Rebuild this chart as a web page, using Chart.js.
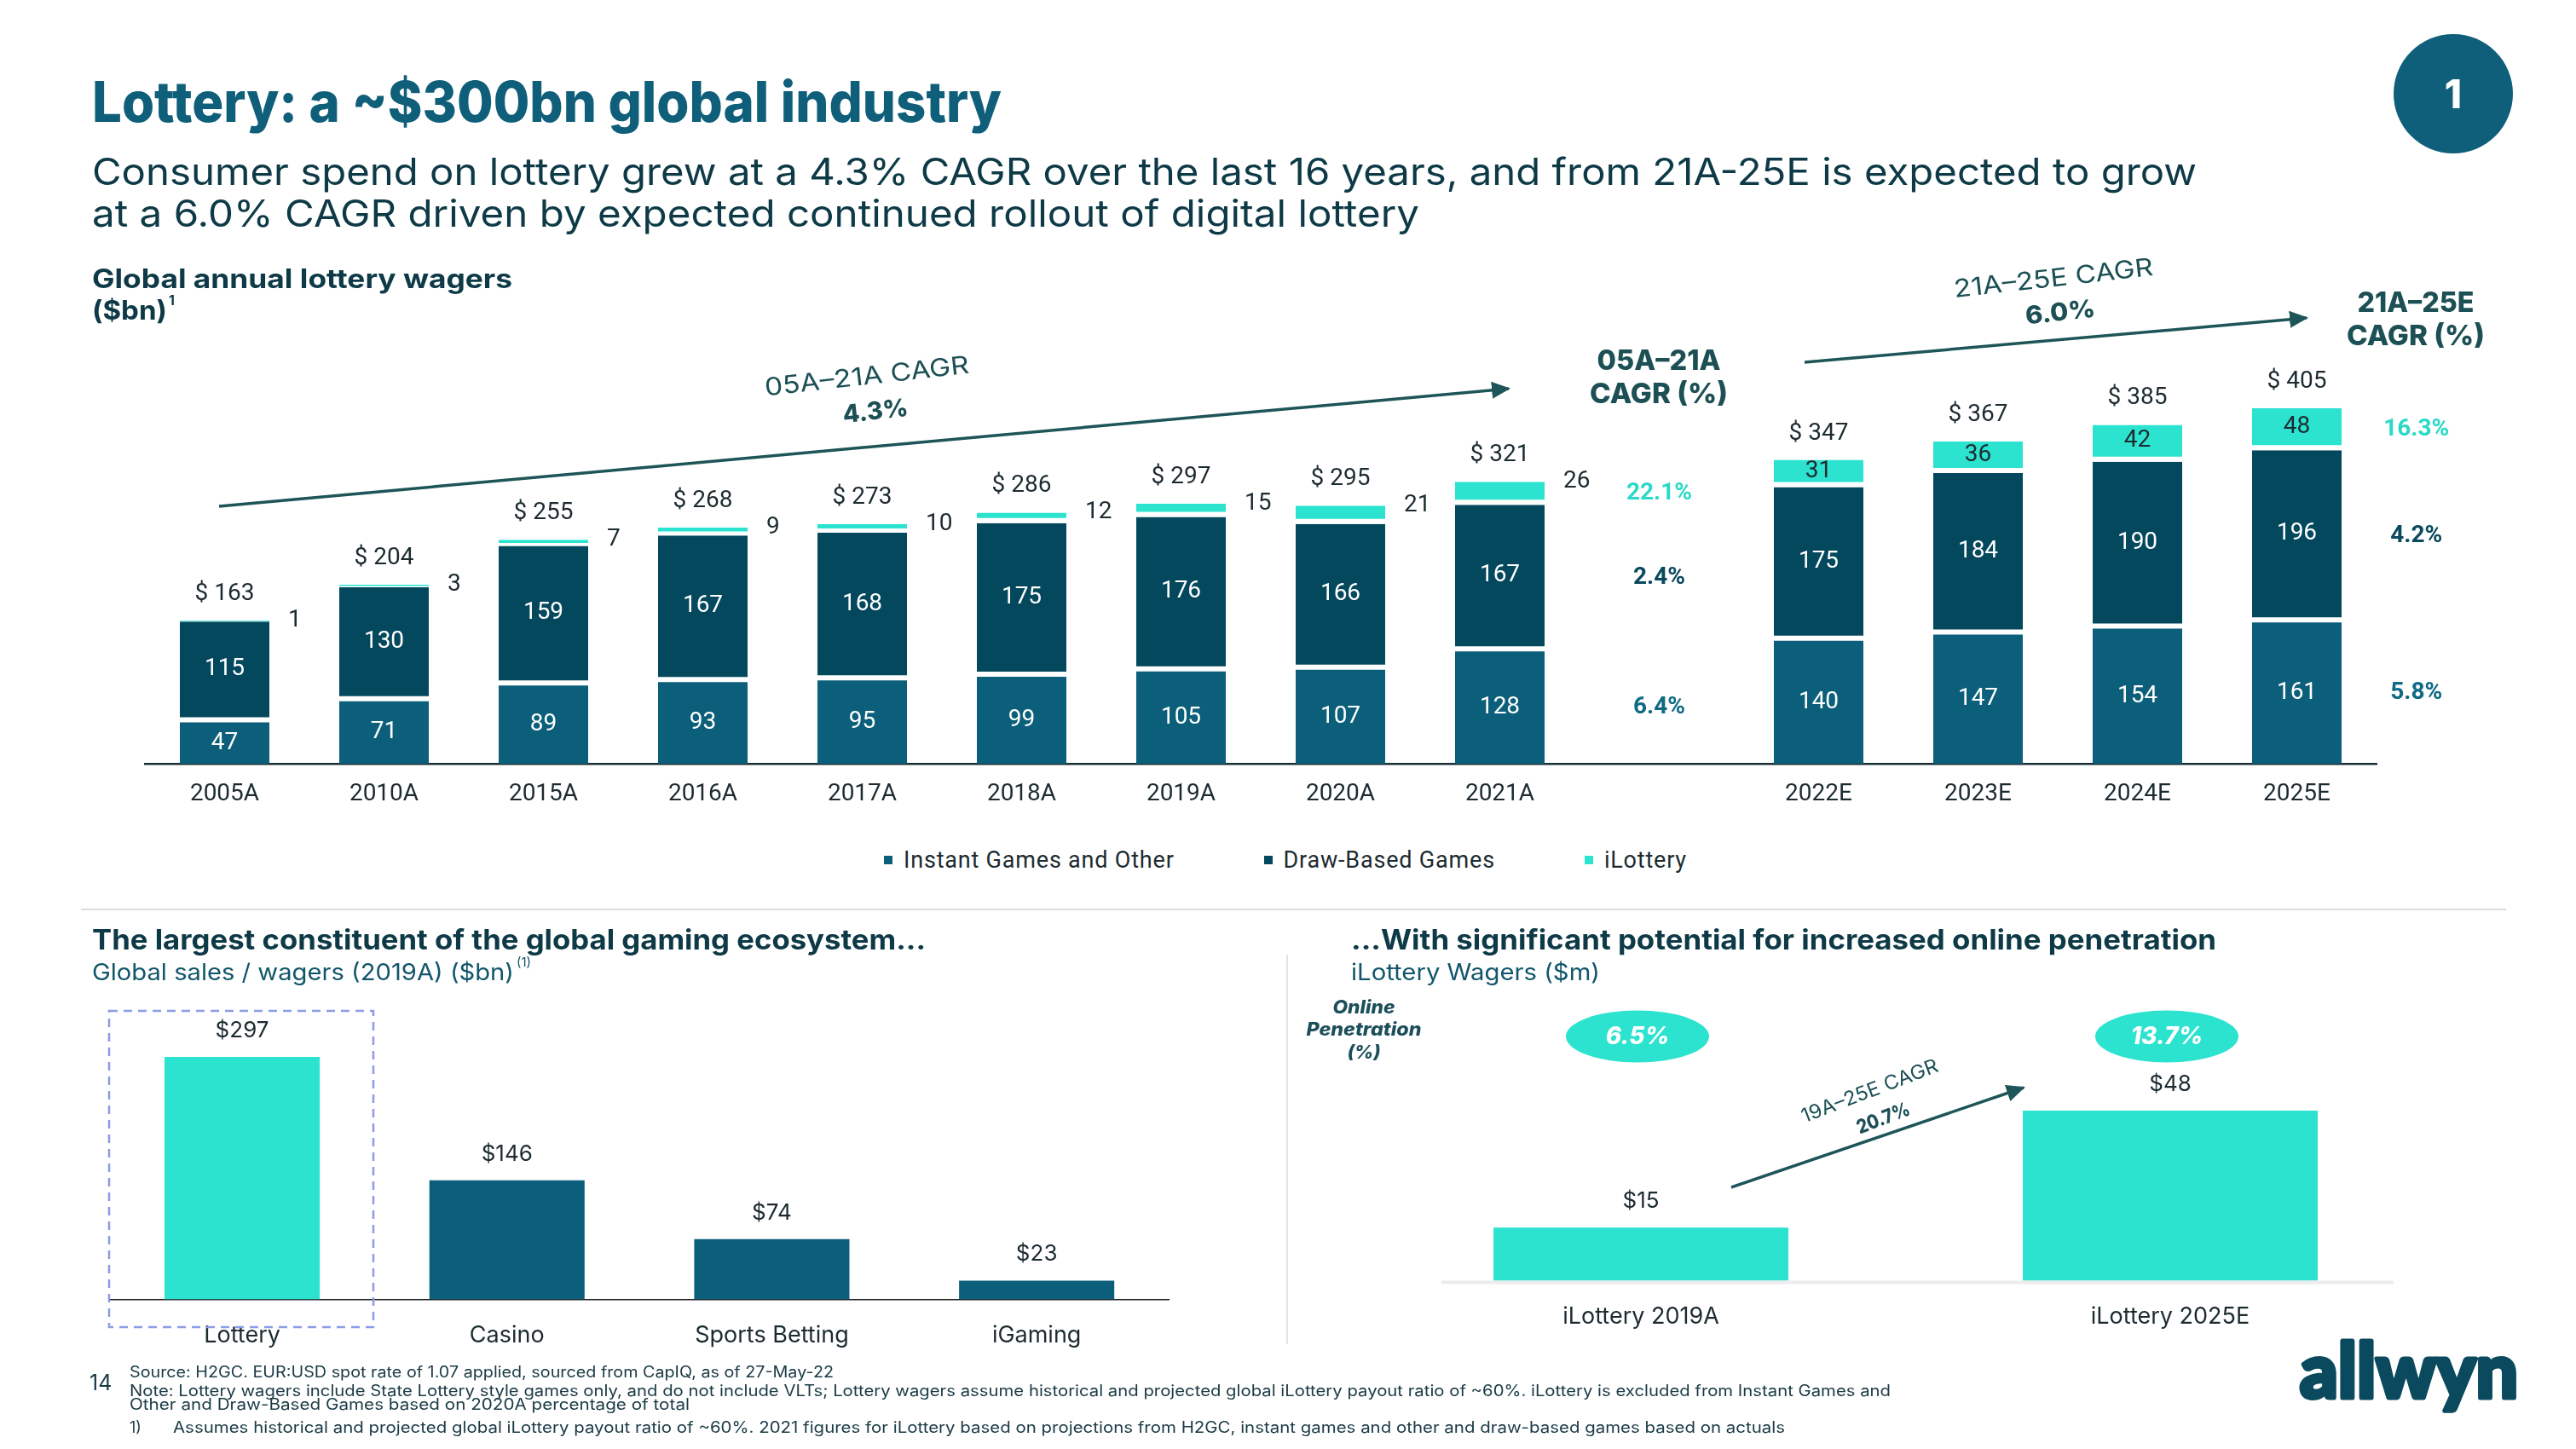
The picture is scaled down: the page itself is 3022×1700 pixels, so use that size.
<!DOCTYPE html>
<html>
<head>
<meta charset="utf-8">
<title>Lottery: a ~$300bn global industry</title>
<script src="https://cdn.jsdelivr.net/npm/chart.js@4.4.1/dist/chart.umd.min.js"></script>
<style>
  html, body { margin: 0; padding: 0; background: #fff; }
  #slide { position: relative; width: 3022px; height: 1700px; overflow: hidden; background: #fff; }
  .box { position: absolute; }
  #overlay { position: absolute; left: 0; top: 0; pointer-events: none; }
  #legend {
    position: absolute; left: 0; top: 990px; width: 3016px; height: 38px;
    display: flex; justify-content: center; align-items: center; gap: 105px;
    font-family: Roboto, sans-serif; font-size: 27px; color: #1c2b30; letter-spacing: 0.8px;
  }
  #legend .item { display: flex; align-items: center; }
  #legend .swatch { width: 10px; height: 10px; margin-right: 13px; }
</style>
</head>
<body>
<div id="slide">
  <div class="box" style="left:0;top:380px;width:3022px;height:600px"><canvas id="wagerChart"></canvas></div>
  <div class="box" style="left:0;top:1150px;width:1500px;height:470px"><canvas id="gamingChart"></canvas></div>
  <div class="box" style="left:1500px;top:1150px;width:1522px;height:470px"><canvas id="iLotteryChart"></canvas></div>
  <div id="legend"></div>

  <svg id="overlay" width="3022" height="1700" viewBox="0 0 3022 1700" font-family="Inter, 'Open Sans', sans-serif">
    <defs>
      <marker id="head" markerUnits="userSpaceOnUse" markerWidth="24" markerHeight="20" refX="20" refY="10" orient="auto">
        <path d="M0,0 L22,10 L0,20 z" fill="#1e5558"/>
      </marker>
    </defs>

    <!-- heading -->
    <text x="108" y="143" font-size="66" font-weight="800" fill="#0f5f7b" textLength="1067" lengthAdjust="spacingAndGlyphs">Lottery: a ~$300bn global industry</text>
    <text x="108" y="217" font-size="44" fill="#0d3a46" textLength="2469" lengthAdjust="spacingAndGlyphs">Consumer spend on lottery grew at a 4.3% CAGR over the last 16 years, and from 21A-25E is expected to grow</text>
    <text x="108" y="266" font-size="44" fill="#0d3a46" textLength="1557" lengthAdjust="spacingAndGlyphs">at a 6.0% CAGR driven by expected continued rollout of digital lottery</text>
    <circle cx="2878" cy="110" r="70" fill="#0f5f7b"/>
    <text x="2878" y="127" font-size="46" font-weight="800" fill="#fff" text-anchor="middle">1</text>

    <text x="108" y="338" font-size="31" font-weight="700" fill="#0d3a46" textLength="493" lengthAdjust="spacingAndGlyphs">Global annual lottery wagers</text>
    <text x="108" y="375" font-size="31" font-weight="700" fill="#0d3a46" textLength="88" lengthAdjust="spacingAndGlyphs">($bn)</text>
    <text x="198" y="358" font-size="16" font-weight="700" fill="#0d3a46">1</text>

    <!-- CAGR arrows, top chart -->
    <line x1="257" y1="594" x2="1770" y2="456" stroke="#1e5558" stroke-width="3.5" marker-end="url(#head)"/>
    <text x="1018" y="451" font-size="29" fill="#1c5055" text-anchor="middle" textLength="241" lengthAdjust="spacingAndGlyphs" transform="rotate(-6.4 1018 451)">05A–21A CAGR</text>
    <text x="1028" y="492" font-size="29" font-weight="800" fill="#1c5055" text-anchor="middle" textLength="77" lengthAdjust="spacingAndGlyphs" transform="rotate(-6.4 1028 492)">4.3%</text>

    <line x1="2117" y1="425" x2="2706" y2="373" stroke="#1e5558" stroke-width="3.5" marker-end="url(#head)"/>
    <text x="2410" y="336" font-size="29" fill="#1c5055" text-anchor="middle" textLength="235" lengthAdjust="spacingAndGlyphs" transform="rotate(-6.4 2410 336)">21A–25E CAGR</text>
    <text x="2418" y="376" font-size="29" font-weight="800" fill="#1c5055" text-anchor="middle" textLength="82" lengthAdjust="spacingAndGlyphs" transform="rotate(-6.4 2418 376)">6.0%</text>

    <text x="1946" y="434" font-size="33" font-weight="800" fill="#1c5055" text-anchor="middle" textLength="145" lengthAdjust="spacingAndGlyphs">05A–21A</text>
    <text x="1946" y="473" font-size="33" font-weight="800" fill="#1c5055" text-anchor="middle" textLength="162" lengthAdjust="spacingAndGlyphs">CAGR (%)</text>
    <text x="2834" y="366" font-size="33" font-weight="800" fill="#1c5055" text-anchor="middle" textLength="137" lengthAdjust="spacingAndGlyphs">21A–25E</text>
    <text x="2834" y="405" font-size="33" font-weight="800" fill="#1c5055" text-anchor="middle" textLength="162" lengthAdjust="spacingAndGlyphs">CAGR (%)</text>

    <line x1="95" y1="1067" x2="2940" y2="1067" stroke="#dcdcdc" stroke-width="2"/>

    <!-- bottom left -->
    <text x="108" y="1114" font-size="32" font-weight="700" fill="#0d3a46" textLength="978" lengthAdjust="spacingAndGlyphs">The largest constituent of the global gaming ecosystem...</text>
    <text x="108" y="1150" font-size="27" fill="#12566b" textLength="495" lengthAdjust="spacingAndGlyphs">Global sales / wagers (2019A) ($bn)</text>
    <text x="606" y="1134" font-size="15" fill="#12566b">(1)</text>
    <rect x="128" y="1186" width="310" height="371" fill="none" stroke="#8c9ce6" stroke-width="2.5" stroke-dasharray="10 7"/>

    <!-- bottom right -->
    <line x1="1510" y1="1120" x2="1510" y2="1577" stroke="#e3e3e3" stroke-width="2"/>
    <text x="1585" y="1114" font-size="32" font-weight="700" fill="#0d3a46" textLength="1015" lengthAdjust="spacingAndGlyphs">...With significant potential for increased online penetration</text>
    <text x="1585" y="1150" font-size="27" fill="#12566b" textLength="292" lengthAdjust="spacingAndGlyphs">iLottery Wagers ($m)</text>
    <text x="1600" y="1189" font-size="21" font-weight="800" font-style="italic" fill="#1c4f5a" text-anchor="middle" textLength="73" lengthAdjust="spacingAndGlyphs">Online</text>
    <text x="1600" y="1215" font-size="21" font-weight="800" font-style="italic" fill="#1c4f5a" text-anchor="middle" textLength="135" lengthAdjust="spacingAndGlyphs">Penetration</text>
    <text x="1600" y="1242" font-size="21" font-weight="800" font-style="italic" fill="#1c4f5a" text-anchor="middle" textLength="39" lengthAdjust="spacingAndGlyphs">(%)</text>
    <line x1="2031" y1="1393" x2="2374" y2="1276" stroke="#1e5558" stroke-width="3.5" marker-end="url(#head)"/>
    <text x="2196" y="1287" font-size="23" fill="#1c5055" text-anchor="middle" textLength="170" lengthAdjust="spacingAndGlyphs" transform="rotate(-21 2196 1287)">19A–25E CAGR</text>
    <text x="2212" y="1319" font-size="23" font-weight="800" fill="#1c5055" text-anchor="middle" textLength="65" lengthAdjust="spacingAndGlyphs" transform="rotate(-21 2212 1319)">20.7%</text>

    <!-- footer -->
    <text x="105" y="1631" font-size="25" fill="#1a3a45">14</text>
    <text x="152" y="1616" font-size="18" fill="#1a3a45" textLength="826" lengthAdjust="spacingAndGlyphs">Source: H2GC. EUR:USD spot rate of 1.07 applied, sourced from CapIQ, as of 27-May-22</text>
    <text x="152" y="1638" font-size="18" fill="#1a3a45" textLength="2066" lengthAdjust="spacingAndGlyphs">Note: Lottery wagers include State Lottery style games only, and do not include VLTs; Lottery wagers assume historical and projected global iLottery payout ratio of ~60%. iLottery is excluded from Instant Games and</text>
    <text x="152" y="1654" font-size="18" fill="#1a3a45" textLength="657" lengthAdjust="spacingAndGlyphs">Other and Draw-Based Games based on 2020A percentage of total</text>
    <text x="152" y="1681" font-size="18" fill="#1a3a45">1)</text>
    <text x="203" y="1681" font-size="18" fill="#1a3a45" textLength="1891" lengthAdjust="spacingAndGlyphs">Assumes historical and projected global iLottery payout ratio of ~60%. 2021 figures for iLottery based on projections from H2GC, instant games and other and draw-based games based on actuals</text>
    <text x="2698" y="1640" font-size="90" font-weight="900" fill="#0b4a5e" stroke="#0b4a5e" stroke-width="5" stroke-linejoin="round" textLength="256" lengthAdjust="spacingAndGlyphs" font-family="Lato, Inter, sans-serif">allwyn</text>
  </svg>
</div>

<script>
// ---- data ----
const years = ['2005A', '2010A', '2015A', '2016A', '2017A', '2018A', '2019A', '2020A', '2021A', '', '2022E', '2023E', '2024E', '2025E'];
const instantGames = [47, 71, 89, 93, 95, 99, 105, 107, 128, null, 140, 147, 154, 161];
const drawBased = [115, 130, 159, 167, 168, 175, 176, 166, 167, null, 175, 184, 190, 196];
const iLottery = [1, 3, 7, 9, 10, 12, 15, 21, 26, null, 31, 36, 42, 48];
const totals = [163, 204, 255, 268, 273, 286, 297, 295, 321, null, 347, 367, 385, 405];
// CAGR per segment: instant games, draw-based, iLottery
const cagr05to21 = [6.4, 2.4, 22.1];
const cagr21to25 = [5.8, 4.2, 16.3];

const gamingSegments = ['Lottery', 'Casino', 'Sports Betting', 'iGaming'];
const gamingWagers = [297, 146, 74, 23];

const iLotteryYears = ['iLottery 2019A', 'iLottery 2025E'];
const iLotteryWagers = [15, 48];
const onlinePenetration = [6.5, 13.7];

// ---- colours ----
const INSTANT = '#0c5f7a';
const DRAW = '#04485e';
const ILOT = '#2be3cf';
const INK = '#1c2b30';

Chart.defaults.animation = false;
Chart.defaults.font.family = 'Roboto, sans-serif';
Chart.defaults.plugins.legend.display = false;
Chart.defaults.plugins.tooltip.enabled = false;

// labels inside / beside the stacked bars, totals on top, and the CAGR columns
const stackLabels = {
  id: 'stackLabels',
  afterDatasetsDraw(chart) {
    const {ctx} = chart;
    const xs = chart.scales.x, ys = chart.scales.y;
    ctx.save();
    ctx.font = '28px Roboto';
    ctx.textBaseline = 'middle';
    ctx.textAlign = 'center';

    [0, 1, 2].forEach(d => {
      const values = chart.data.datasets[d].data;
      chart.getDatasetMeta(d).data.forEach((bar, i) => {
        const v = values[i];
        if (v == null) return;
        const gap = d > 0 ? 6 : 0;
        const mid = (bar.y + bar.base - gap) / 2;
        if (d < 2) {
          ctx.fillStyle = '#fff';
          ctx.textAlign = 'center';
          ctx.fillText(v, bar.x, mid);
        } else if (years[i].endsWith('E')) {
          ctx.fillStyle = INK;
          ctx.textAlign = 'center';
          ctx.fillText(v, bar.x, mid);
        } else {
          ctx.fillStyle = INK;
          ctx.textAlign = 'left';
          ctx.fillText(v, bar.x + bar.width / 2 + 22, bar.y);
        }
      });
    });

    ctx.fillStyle = INK;
    ctx.textAlign = 'center';
    chart.getDatasetMeta(2).data.forEach((bar, i) => {
      if (totals[i] == null) return;
      ctx.fillText('$ ' + totals[i], bar.x, bar.y - 31);
    });

    const slot = xs.getPixelForValue(1) - xs.getPixelForValue(0);
    const cols = [
      {idx: 8, x: xs.getPixelForValue(9), vals: cagr05to21},
      {idx: 13, x: xs.getPixelForValue(13) + 0.75 * slot, vals: cagr21to25}
    ];
    const colColors = ['#0f6a84', '#0b4a5e', '#2ad9c8'];
    ctx.font = 'bold 28px Roboto';
    cols.forEach(c => {
      let cum = 0;
      [instantGames, drawBased, iLottery].forEach((arr, k) => {
        const v = arr[c.idx];
        const y = ys.getPixelForValue(cum + v / 2);
        cum += v;
        ctx.fillStyle = colColors[k];
        ctx.fillText(c.vals[k].toFixed(1) + '%', c.x, y);
      });
    });
    ctx.restore();
  }
};

const wagerChart = new Chart(document.getElementById('wagerChart'), {
  type: 'bar',
  data: {
    labels: years,
    datasets: [
      {label: 'Instant Games and Other', data: instantGames, backgroundColor: INSTANT},
      {label: 'Draw-Based Games', data: drawBased, backgroundColor: DRAW,
       borderColor: '#fff', borderWidth: {top: 0, right: 0, bottom: 6, left: 0}, borderSkipped: false},
      {label: 'iLottery', data: iLottery, backgroundColor: ILOT,
       borderColor: '#fff', borderWidth: {top: 0, right: 0, bottom: 6, left: 0}, borderSkipped: false}
    ]
  },
  options: {
    responsive: true,
    maintainAspectRatio: false,
    barPercentage: 0.5615,
    categoryPercentage: 1,
    layout: {padding: {left: 170, right: 234, top: 52.5, bottom: 12.4}},
    scales: {
      x: {
        stacked: true,
        grid: {display: false, drawTicks: false},
        border: {display: true, color: '#1a2e35', width: 2.5},
        ticks: {color: INK, font: {size: 28, lineHeight: 1.2}, padding: 19}
      },
      y: {stacked: true, display: false, min: 0, max: 450}
    }
  },
  plugins: [stackLabels]
});

// html legend built from the chart datasets
const legendEl = document.getElementById('legend');
wagerChart.data.datasets.forEach(ds => {
  const item = document.createElement('div');
  item.className = 'item';
  item.innerHTML = `<span class="swatch" style="background:${ds.backgroundColor}"></span><span>${ds.label}</span>`;
  legendEl.appendChild(item);
});

// "$value" above single bars
const valueLabels = {
  id: 'valueLabels',
  afterDatasetsDraw(chart) {
    const {ctx} = chart;
    const values = chart.data.datasets[0].data;
    ctx.save();
    ctx.font = '26px Inter';
    ctx.fillStyle = INK;
    ctx.textAlign = 'center';
    ctx.textBaseline = 'middle';
    chart.getDatasetMeta(0).data.forEach((bar, i) => {
      ctx.fillText('$' + values[i], bar.x, bar.y - 31);
    });
    ctx.restore();
  }
};

new Chart(document.getElementById('gamingChart'), {
  type: 'bar',
  data: {
    labels: gamingSegments,
    datasets: [{
      data: gamingWagers,
      backgroundColor: [ILOT, INSTANT, INSTANT, INSTANT]
    }]
  },
  options: {
    responsive: true,
    maintainAspectRatio: false,
    barPercentage: 0.586,
    categoryPercentage: 1,
    layout: {padding: {left: 128.7, right: 128.5, top: 68, bottom: 11}},
    scales: {
      x: {
        grid: {display: false, drawTicks: false},
        border: {display: true, color: '#222', width: 1.5},
        ticks: {color: INK, font: {family: 'Inter, sans-serif', size: 27, lineHeight: 1.2}, padding: 26}
      },
      y: {display: false, min: 0, max: 320}
    }
  },
  plugins: [valueLabels]
});

// online penetration bubbles and the light base line
const penetration = {
  id: 'penetration',
  beforeDatasetsDraw(chart) {
    const {ctx, chartArea} = chart;
    const bars = chart.getDatasetMeta(0).data;
    ctx.save();
    ctx.strokeStyle = '#ececec';
    ctx.lineWidth = 4;
    ctx.beginPath();
    ctx.moveTo(bars[0].x - 234, chartArea.bottom + 2);
    ctx.lineTo(bars[bars.length - 1].x + 262, chartArea.bottom + 2);
    ctx.stroke();
    ctx.restore();
  },
  afterDatasetsDraw(chart) {
    const {ctx, chartArea} = chart;
    ctx.save();
    chart.getDatasetMeta(0).data.forEach((bar, i) => {
      const cx = bar.x - 4, cy = chartArea.top - 37;
      ctx.fillStyle = ILOT;
      ctx.beginPath();
      ctx.ellipse(cx, cy, 84, 30.5, 0, 0, Math.PI * 2);
      ctx.fill();
      ctx.fillStyle = '#fff';
      ctx.font = 'italic 800 28px Inter';
      ctx.textAlign = 'center';
      ctx.textBaseline = 'middle';
      ctx.fillText(onlinePenetration[i].toFixed(1) + '%', cx, cy + 1);
    });
    ctx.restore();
  }
};

new Chart(document.getElementById('iLotteryChart'), {
  type: 'bar',
  data: {
    labels: iLotteryYears,
    datasets: [{data: iLotteryWagers, backgroundColor: ILOT}]
  },
  options: {
    responsive: true,
    maintainAspectRatio: false,
    barPercentage: 0.557,
    categoryPercentage: 1,
    layout: {padding: {left: 114.5, right: 165.5, top: 103, bottom: 33}},
    scales: {
      x: {
        grid: {display: false, drawTicks: false},
        border: {display: false},
        ticks: {color: INK, font: {family: 'Inter, sans-serif', size: 27, lineHeight: 1.2}, padding: 26}
      },
      y: {display: false, min: 0, max: 60}
    }
  },
  plugins: [valueLabels, penetration]
});
</script>
</body>
</html>
